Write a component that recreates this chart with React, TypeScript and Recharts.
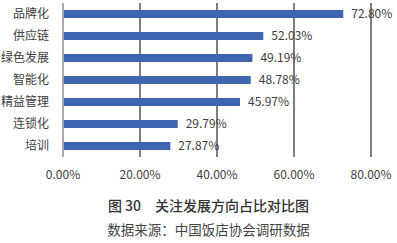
import React from "react";
import { BarChart, Bar, XAxis, YAxis, CartesianGrid, LabelList } from "recharts";

const categories = ["品牌化", "供应链", "绿色发展", "智能化", "精益管理", "连锁化", "培训"];
const values = [72.8, 52.03, 49.19, 48.78, 45.97, 29.79, 27.87];
const xTicks = [0, 20, 40, 60, 80];
const title = "图 30　关注发展方向占比对比图";
const subtitle = "数据来源：中国饭店协会调研数据";

const data = categories.map((name, i) => ({ name, value: values[i] }));
const FONT = '"Noto Sans CJK SC", "Noto Sans", sans-serif';

export default function App() {
  return (
    <div style={{ position: "absolute", left: 0, top: 0, width: 397, height: 243, background: "#fff", fontFamily: FONT }}>
      <BarChart
        width={397}
        height={190}
        data={data}
        layout="vertical"
        margin={{ top: 3, right: 26, left: 0, bottom: 0 }}
        barCategoryGap={7}
      >
        <CartesianGrid horizontal={false} vertical={true} stroke="#000" strokeWidth={1} />
        <XAxis
          type="number"
          domain={[0, 80]}
          ticks={xTicks}
          axisLine={false}
          tickLine={false}
          height={33}
          interval={0}
          tickFormatter={(v: number) => v.toFixed(2) + "%"}
          tick={{ fontSize: 12, fill: "#404040", fontFamily: FONT, dy: 5 }}
        />
        <YAxis
          type="category"
          dataKey="name"
          width={63}
          axisLine={{ stroke: "#d9d9d9" }}
          tickLine={false}
          tick={{ fontSize: 12, fill: "#404040", fontFamily: FONT, dx: -6 }}
        />
        <Bar dataKey="value" fill="#3f65b0" barSize={8} isAnimationActive={false}>
          <LabelList
            dataKey="value"
            position="right"
            offset={8}
            formatter={(v: number) => v.toFixed(2) + "%"}
            style={{ fontSize: 12, fill: "#404040", fontFamily: FONT }}
          />
        </Bar>
      </BarChart>
      <div style={{ position: "absolute", left: 0, width: 417, top: 195, textAlign: "center", fontSize: 14, color: "#333", fontWeight: 500, lineHeight: "20px" }}>
        {title}
      </div>
      <div style={{ position: "absolute", left: 0, width: 417, top: 219, textAlign: "center", fontSize: 13.5, color: "#444", lineHeight: "20px" }}>
        {subtitle}
      </div>
    </div>
  );
}
